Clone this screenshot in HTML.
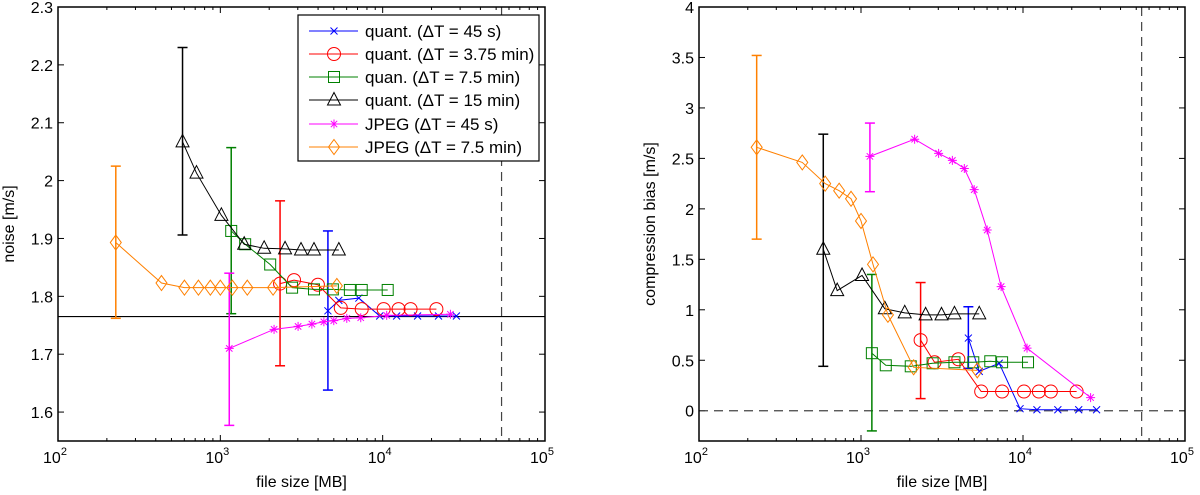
<!DOCTYPE html>
<html><head><meta charset="utf-8"><style>
html,body{margin:0;padding:0;background:#fff;}
svg{display:block;font-family:"Liberation Sans",sans-serif;}
</style></head><body>
<svg id="c" width="1200" height="495" viewBox="0 0 1200 495"></svg>
<script>
const seriesNames=["quant. (ΔT = 45 s)","quant. (ΔT = 3.75 min)","quan. (ΔT = 7.5 min)","quant. (ΔT = 15 min)","JPEG (ΔT = 45 s)","JPEG (ΔT = 7.5 min)"];
const seriesColors=["#0000ff","#ff0000","#008000","#000000","#ff00ff","#ff8000"];
const seriesMarkers=["x","o","s","t","*","d"];
const blueX=[4600,5370,7130,9590,12190,16410,22080,28460];
const redX=[2333,2844,3990,5520,7430,10140,12530,14860,21430];
const greenX=[1167,1422,2028,2767,3775,4933,6281,7430,10740];
const blackX=[585,713,1015,1403,1862,2505,3140,3775,5370];
const magentaX=[1135,2143,3013,3664,4343,4998,6011,7328,10590,26140];
const orangeX=[227,434,601,733,868,1000,1186,1466,2113,5220];
const noiseBlue=[1.775,1.793,1.797,1.766,1.766,1.766,1.766,1.766];
const noiseRed=[1.822,1.828,1.82,1.78,1.778,1.778,1.778,1.778,1.778];
const noiseGreen=[1.913,1.89,1.855,1.815,1.812,1.812,1.811,1.811,1.811];
const noiseBlack=[2.067,2.013,1.94,1.89,1.883,1.882,1.88,1.88,1.88];
const noiseMagenta=[1.71,1.743,1.748,1.752,1.756,1.758,1.762,1.763,1.767,1.769];
const noiseOrange=[1.893,1.823,1.815,1.815,1.815,1.815,1.815,1.815,1.815,1.818];
const noiseErrLo=[1.638,1.68,1.77,1.906,1.577,1.762];
const noiseErrHi=[1.913,1.965,2.057,2.23,1.84,2.025];
const biasBlue=[0.72,0.39,0.47,0.02,0.01,0.01,0.01,0.01];
const biasRed=[0.70,0.48,0.51,0.19,0.19,0.19,0.19,0.19,0.19];
const biasGreen=[0.57,0.45,0.44,0.47,0.48,0.48,0.49,0.48,0.48];
const biasBlack=[1.60,1.19,1.34,1.01,0.97,0.95,0.95,0.96,0.96];
const biasMagenta=[2.52,2.69,2.55,2.48,2.40,2.19,1.79,1.23,0.62,0.13];
const biasOrange=[2.61,2.46,2.25,2.18,2.10,1.88,1.45,0.95,0.43,0.40];
const biasErrLo=[0.42,0.12,-0.2,0.44,2.17,1.70];
const biasErrHi=[1.03,1.27,1.35,2.74,2.85,3.52];
const noiseTicks=[1.6,1.7,1.8,1.9,2,2.1,2.2,2.3];
const biasTicks=[0,0.5,1,1.5,2,2.5,3,3.5,4];
const xTickExp=[2,3,4,5];
const noiseRef=1.765;
const fullFileSize=54000;

const NS="http://www.w3.org/2000/svg";
const svg=document.getElementById('c');
function mk(tag,attrs,parent){const e=document.createElementNS(NS,tag);for(const k in attrs)e.setAttribute(k,attrs[k]);(parent||svg).appendChild(e);return e;}

const xsArr=[blueX,redX,greenX,blackX,magentaX,orangeX];
function drawPanel(pname,L,R,T,B,ymin,ymax,ys,eLo,eHi,yticks,ylabel,fmt,extra){
  const g=mk('g',{});
  
  
  const xs=v=>L+(Math.log10(v)-2)/3*(R-L);
  const yv=v=>B-(v-ymin)/(ymax-ymin)*(B-T);
  for(let d=2;d<5;d++)for(let m=2;m<10;m++){const x=xs(m*Math.pow(10,d));
    mk('line',{x1:x,x2:x,y1:B,y2:B-3,stroke:'#000','stroke-width':1},g);
    mk('line',{x1:x,x2:x,y1:T,y2:T+3,stroke:'#000','stroke-width':1},g);}
  xTickExp.forEach(e=>{const x=xs(Math.pow(10,e));
    mk('line',{x1:x,x2:x,y1:B,y2:B-6,stroke:'#000'},g);mk('line',{x1:x,x2:x,y1:T,y2:T+6,stroke:'#000'},g);
    const t=mk('text',{x:x-3,y:B+22,'font-size':16,'text-anchor':'middle'},g);
    
    
    t.textContent='10';const s=mk('tspan',{dy:-8,'font-size':11},t);s.textContent=e;});
  yticks.forEach(v=>{const y=yv(v);
    mk('line',{x1:L,x2:L+6,y1:y,y2:y,stroke:'#000'},g);mk('line',{x1:R,x2:R-6,y1:y,y2:y,stroke:'#000'},g);
    const t=mk('text',{x:L-5,y:y+6,'font-size':16,'text-anchor':'end'},g);
    
    
    t.textContent=fmt(v);});
  extra(g,xs,yv);
  const fx=xs(fullFileSize);
  mk('line',{x1:fx,x2:fx,y1:T,y2:B,stroke:'#444','stroke-dasharray':'9,6','stroke-width':1.2},g);
  for(let i=0;i<6;i++){
    const c=seriesColors[i],X=xsArr[i],Y=ys[i];
    const sg=mk('g',{},g);
    
    
    const ex=xs(X[0]);
    mk('line',{x1:ex,x2:ex,y1:yv(eLo[i]),y2:yv(eHi[i]),stroke:c,'stroke-width':1.5},sg);
    [eLo[i],eHi[i]].forEach(v=>mk('line',{x1:ex-5,x2:ex+5,y1:yv(v),y2:yv(v),stroke:c,'stroke-width':1.5},sg));
    mk('polyline',{points:X.map((x,j)=>xs(x)+','+yv(Y[j])).join(' '),fill:'none',stroke:c,'stroke-width':1},sg);
    X.forEach((x,j)=>marker(sg,seriesMarkers[i],xs(x),yv(Y[j]),c));
  }
  mk('rect',{x:L,y:T,width:R-L,height:B-T,fill:'none',stroke:'#000','stroke-width':1.5},g);
  const xl=mk('text',{x:(L+R)/2,y:487,'font-size':16,'text-anchor':'middle'},g);
  
  
  xl.textContent='file size [MB]';
  const cy=(T+B)/2,cx=L-44;
  const yl=mk('text',{x:cx,y:cy,'font-size':16,'text-anchor':'middle',transform:`rotate(-90 ${cx} ${cy})`},g);
  
  
  yl.textContent=ylabel;
  return {xs,yv,g};
}
function marker(p,m,x,y,c){
  const a={fill:'none',stroke:c,'stroke-width':1};
  if(m==='x'){mk('path',Object.assign({d:`M${x-3.5},${y-3.5}L${x+3.5},${y+3.5}M${x-3.5},${y+3.5}L${x+3.5},${y-3.5}`},a),p);}
  else if(m==='o'){mk('circle',Object.assign({cx:x,cy:y,r:6.5},a),p);}
  else if(m==='s'){mk('rect',Object.assign({x:x-5.5,y:y-5.5,width:11,height:11},a),p);}
  else if(m==='t'){mk('path',Object.assign({d:`M${x},${y-7.5}L${x+6.5},${y+5}L${x-6.5},${y+5}Z`},a),p);}
  else if(m==='d'){mk('path',Object.assign({d:`M${x},${y-7.5}L${x+5.5},${y}L${x},${y+7.5}L${x-5.5},${y}Z`},a),p);}
  else if(m==='*'){mk('path',Object.assign({d:`M${x-4.5},${y}L${x+4.5},${y}M${x},${y-4.5}L${x},${y+4.5}M${x-3.2},${y-3.2}L${x+3.2},${y+3.2}M${x-3.2},${y+3.2}L${x+3.2},${y-3.2}`},a),p);}
}
const f1=v=>(Math.round(v*10)/10).toString();
drawPanel('noise-panel',58,545,7,441,1.55,2.3,
  [noiseBlue,noiseRed,noiseGreen,noiseBlack,noiseMagenta,noiseOrange],noiseErrLo,noiseErrHi,noiseTicks,'noise [m/s]',f1,
  (g,xs,yv)=>{mk('line',{x1:58,x2:545,y1:yv(noiseRef),y2:yv(noiseRef),stroke:'#000','stroke-width':1.2},g);});
drawPanel('bias-panel',699,1185,7,441,-0.3,4,
  [biasBlue,biasRed,biasGreen,biasBlack,biasMagenta,biasOrange],biasErrLo,biasErrHi,biasTicks,'compression bias [m/s]',v=>v.toString(),
  (g,xs,yv)=>{mk('line',{x1:699,x2:1185,y1:yv(0),y2:yv(0),stroke:'#444','stroke-dasharray':'9,6','stroke-width':1.2},g);});
const lg=mk('g',{});


mk('rect',{x:298,y:15,width:241,height:146,fill:'#fff',stroke:'#000','stroke-width':1.2},lg);
const rowsY=[31,54,77,100,124,147];
seriesNames.forEach((n,i)=>{
  const eg=mk('g',{},lg);
  
  
  mk('line',{x1:309,x2:358,y1:rowsY[i],y2:rowsY[i],stroke:seriesColors[i]},eg);
  marker(eg,seriesMarkers[i],334,rowsY[i],seriesColors[i]);
  const t=mk('text',{x:365,y:rowsY[i]+6,'font-size':17},eg);t.textContent=n;
});
</script>
</body></html>
